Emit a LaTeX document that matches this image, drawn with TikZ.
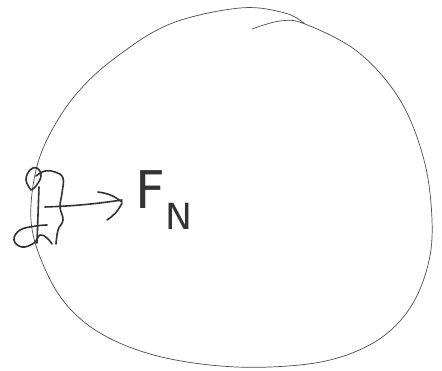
\documentclass[tikz,border=0pt]{standalone}
\usepackage{fontspec}
\setmainfont{DejaVu Sans}
\tikzset{
  outline/.style={draw=black!70, line width=0.7pt, line cap=round, line join=round},
  stroke/.style={draw=black!80, line width=1.6pt, line cap=round, line join=round},
  lbl/.style={inner sep=0pt, text=black!80, font=\fontsize{52}{52}\selectfont}
}
\begin{document}
\begin{tikzpicture}[x=1pt,y=-1pt]
\useasboundingbox (0,0) rectangle (442,370);
% big closed outline
\draw[outline] plot[smooth, tension=0.6] coordinates {
 (252,29) (280,21) (305,24) (358,52) (400,100) (424,160) (432,220) (428,265)
 (410,308) (378,340) (330,360) (270,367) (210,365) (150,354) (100,333) (65,303)
 (42,262) (31,220) (36,170) (52,130) (78,92) (115,58) (170,24) (240,8) (285,13) (305,24)};
% small figure
\draw[stroke] plot[smooth, tension=0.7] coordinates {
 (31,190) (26,180) (30,170) (37,168) (41,176) (36,186) (31,190)};
\draw[stroke] plot[smooth, tension=0.7] coordinates {
 (36,176) (45,171) (55,172) (63,178) (62,193) (60,207) (63,220) (58,230) (56,244)};
\draw[stroke] plot[smooth, tension=0.5] coordinates {(39,187) (38,215) (37,243)};
\draw[stroke] plot[smooth, tension=0.7] coordinates {
 (47,225) (36,226) (20,230) (14,240) (22,247) (34,243) (40,235) (47,238) (52,244)};
% label
\node[lbl, anchor=west] (fn) at (135,200) {F\raisebox{-0.75ex}{\fontsize{36}{36}\selectfont N}};
\coordinate (hand) at (45,207);
\draw[stroke] (hand) to[bend right=3] (fn.west -| 122,0) coordinate (tip);
\draw[stroke] (98,192) to[bend left=15] (122,202);
\draw[stroke] (107,220) to[bend right=15] (122,203);
\end{tikzpicture}
\end{document}
